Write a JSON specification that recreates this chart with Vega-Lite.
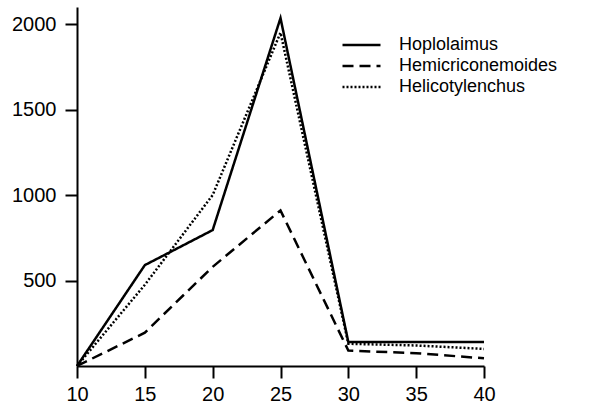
{
  "$schema": "https://vega.github.io/schema/vega-lite/v6.json",
  "autosize": "none",
  "width": 407,
  "height": 359,
  "padding": {"left": 77, "top": 7, "right": 106, "bottom": 42},
  "background": "white",
  "config": {
    "view": {"stroke": null},
    "font": "Liberation Sans"
  },
  "data": {
    "values": [
      {"temp": 10, "species": "Hoplolaimus", "count": 0},
      {"temp": 15, "species": "Hoplolaimus", "count": 590},
      {"temp": 20, "species": "Hoplolaimus", "count": 795},
      {"temp": 25, "species": "Hoplolaimus", "count": 2035},
      {"temp": 30, "species": "Hoplolaimus", "count": 140},
      {"temp": 35, "species": "Hoplolaimus", "count": 140},
      {"temp": 40, "species": "Hoplolaimus", "count": 140},
      {"temp": 10, "species": "Hemicriconemoides", "count": 0},
      {"temp": 15, "species": "Hemicriconemoides", "count": 195},
      {"temp": 20, "species": "Hemicriconemoides", "count": 580},
      {"temp": 25, "species": "Hemicriconemoides", "count": 910},
      {"temp": 30, "species": "Hemicriconemoides", "count": 90},
      {"temp": 35, "species": "Hemicriconemoides", "count": 75},
      {"temp": 40, "species": "Hemicriconemoides", "count": 45},
      {"temp": 10, "species": "Helicotylenchus", "count": 0},
      {"temp": 15, "species": "Helicotylenchus", "count": 475},
      {"temp": 20, "species": "Helicotylenchus", "count": 1000},
      {"temp": 25, "species": "Helicotylenchus", "count": 1950},
      {"temp": 30, "species": "Helicotylenchus", "count": 130},
      {"temp": 35, "species": "Helicotylenchus", "count": 120},
      {"temp": 40, "species": "Helicotylenchus", "count": 100}
    ]
  },
  "mark": {"type": "line", "color": "black", "strokeWidth": 2.5},
  "encoding": {
    "x": {
      "field": "temp", "type": "quantitative",
      "scale": {"domain": [10, 40], "nice": false, "zero": false},
      "axis": {
        "title": null, "values": [10, 15, 20, 25, 30, 35, 40], "grid": false, "format": "d",
        "labelFlush": false,
        "domainColor": "black", "domainWidth": 2, "tickColor": "black", "tickWidth": 2,
        "tickSize": 12, "labelColor": "black", "labelFontSize": 20, "labelPadding": 6
      }
    },
    "y": {
      "field": "count", "type": "quantitative",
      "scale": {"domain": [0, 2100], "nice": false},
      "axis": {
        "title": null, "values": [500, 1000, 1500, 2000], "grid": false, "format": "d",
        "labelFlush": false,
        "domainColor": "black", "domainWidth": 2, "tickColor": "black", "tickWidth": 2,
        "tickSize": 12, "labelColor": "black", "labelFontSize": 20, "labelPadding": 9
      }
    },
    "strokeDash": {
      "field": "species", "type": "nominal",
      "scale": {
        "domain": ["Hoplolaimus", "Hemicriconemoides", "Helicotylenchus"],
        "range": [[1, 0], [11, 6], [2, 2]]
      },
      "legend": {
        "title": null, "orient": "none", "legendX": 264, "legendY": 30,
        "symbolType": "stroke", "symbolSize": 1444, "symbolStrokeWidth": 2.5,
        "symbolStrokeColor": "black", "labelFontSize": 18, "labelColor": "black",
        "labelLimit": 300, "clipHeight": 16, "rowPadding": 3, "labelOffset": 17, "symbolOffset": 0
      }
    }
  }
}
